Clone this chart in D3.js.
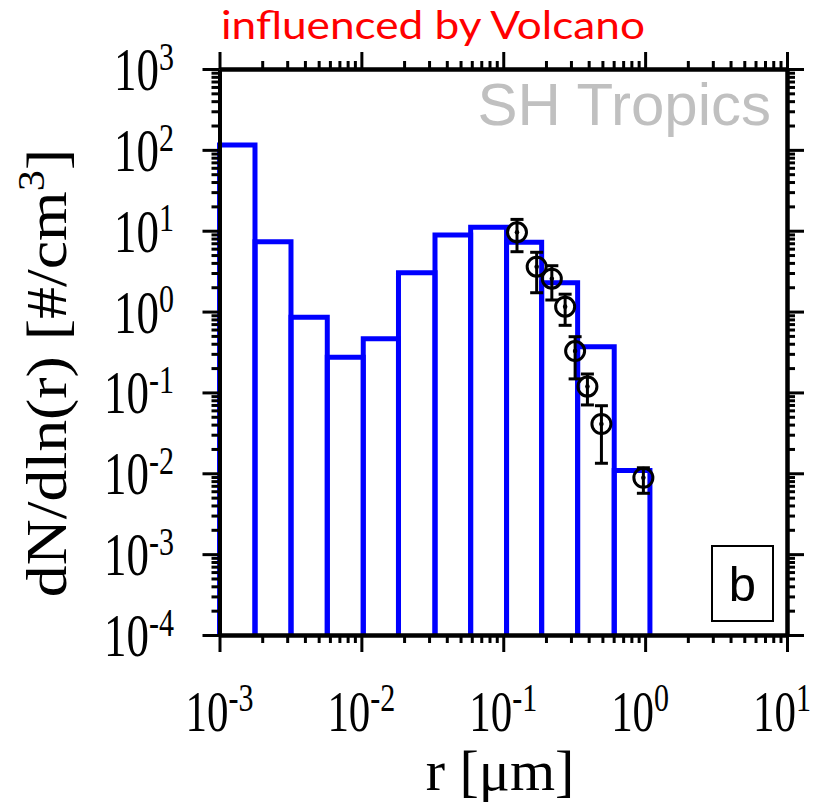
<!DOCTYPE html>
<html>
<head>
<meta charset="utf-8">
<title>SH Tropics size distribution</title>
<script src="https://cdn.jsdelivr.net/npm/d3@7"></script>
<style>
  body { margin: 0; background: #fff; }
  svg { display: block; }
</style>
</head>
<body>
<div id="chart"></div>
<script>
// bin edges of the model histogram (r in um) and dN/dln(r) per bin
const binEdges = [0.001, 0.001779, 0.003191, 0.00575, 0.01031, 0.01826, 0.03303, 0.05892, 0.1055, 0.1865, 0.3344, 0.6056, 1.081];
const binValues = [115, 7.3, 0.85, 0.272, 0.46, 3.03, 8.85, 11.0, 7.2, 2.28, 0.368, 0.0108];

// measured points with error bars
const obsR = [0.125, 0.172, 0.220, 0.273, 0.321, 0.392, 0.492, 0.972];
const obsN = [9.56, 3.59, 2.55, 1.15, 0.325, 0.118, 0.0407, 0.0088];
const obsHi = [13.8, 5.41, 3.69, 1.64, 0.489, 0.169, 0.0685, 0.0117];
const obsLo = [5.50, 1.71, 1.39, 0.676, 0.147, 0.070, 0.0133, 0.00566];

const xTickExp = [-3, -2, -1, 0, 1];
const yTickExp = [-4, -3, -2, -1, 0, 1, 2, 3];

const W = 818, H = 805;
const plot = { left: 219.5, right: 787, top: 69, bottom: 635 };
const stretch = 1.35; // tick labels in the figure are drawn tall

const svg = d3.select("#chart").append("svg")
  .attr("width", W).attr("height", H);

const x = d3.scaleLog().domain([1e-3, 1e1]).range([plot.left, plot.right]);
const y = d3.scaleLog().domain([1e-4, 1e3]).range([plot.bottom, plot.top]);

// titles
svg.append("text")
  .attr("x", 221).attr("y", 39)
  .attr("font-family", "Lato, 'Open Sans', sans-serif")
  .attr("font-size", 39)
  .attr("fill", "#ff0000")
  .attr("textLength", 424)
  .attr("lengthAdjust", "spacingAndGlyphs")
  .text("influenced by Volcano");

svg.append("text")
  .attr("x", 771).attr("y", 125)
  .attr("text-anchor", "end")
  .attr("font-family", "'Liberation Sans', Arial, sans-serif")
  .attr("font-size", 60)
  .attr("fill", "#c0c0c0")
  .text("SH Tropics");

// histogram
const bins = binValues.map((v, i) => ({ x0: binEdges[i], x1: binEdges[i + 1], v }));
svg.append("g").selectAll("path")
  .data(bins)
  .join("path")
  .attr("d", d => `M${x(d.x0)},${y(1e-4)}V${y(d.v)}H${x(d.x1)}V${y(1e-4)}`)
  .attr("fill", "none")
  .attr("stroke", "#0000ff")
  .attr("stroke-width", 5);

// axes (ticks outward on all four sides)
const xMajor = xTickExp.map(e => Math.pow(10, e));
const yMajor = yTickExp.map(e => Math.pow(10, e));
const isMajor = (v, list) => list.some(m => Math.abs(v / m - 1) < 1e-6);
const xMinor = x.ticks().filter(v => !isMajor(v, xMajor));
const yMinor = y.ticks().filter(v => !isMajor(v, yMajor));

function styleAxis(g) {
  g.select(".domain").attr("stroke-width", 4).attr("stroke", "#000");
  g.selectAll(".tick line").attr("stroke-width", 3).attr("stroke", "#000");
  g.selectAll(".tick text").remove();
}

[[d3.axisBottom, plot.bottom], [d3.axisTop, plot.top]].forEach(([ax, ty]) => {
  svg.append("g").attr("transform", `translate(0,${ty})`)
    .call(ax(x).tickValues(xMinor).tickSize(8).tickSizeOuter(0).tickFormat(""))
    .call(styleAxis);
  svg.append("g").attr("transform", `translate(0,${ty})`)
    .call(ax(x).tickValues(xMajor).tickSize(17).tickSizeOuter(0).tickFormat(""))
    .call(styleAxis);
});
[[d3.axisLeft, plot.left], [d3.axisRight, plot.right]].forEach(([ax, tx]) => {
  svg.append("g").attr("transform", `translate(${tx},0)`)
    .call(ax(y).tickValues(yMinor).tickSize(8).tickSizeOuter(0).tickFormat(""))
    .call(styleAxis);
  svg.append("g").attr("transform", `translate(${tx},0)`)
    .call(ax(y).tickValues(yMajor).tickSize(17).tickSizeOuter(0).tickFormat(""))
    .call(styleAxis);
});

// tick labels: 10 with superscript exponent
const serif = "'Liberation Serif', 'Times New Roman', serif";
function powerLabel(sel) {
  sel.append("tspan").text("10");
  sel.append("tspan")
    .attr("font-size", 30)
    .attr("dy", -15)
    .text(d => String(d));
}

svg.append("g").selectAll("text")
  .data(xTickExp)
  .join("text")
  .attr("transform", d => `translate(${x(Math.pow(10, d)) - 34},731) scale(1,${stretch})`)
  .attr("font-family", serif)
  .attr("font-size", 43)
  .attr("fill", "#000")
  .call(powerLabel);

svg.append("g").selectAll("text")
  .data(yTickExp)
  .join("text")
  .attr("transform", d => `translate(174,${y(Math.pow(10, d)) + 21}) scale(1,${stretch})`)
  .attr("text-anchor", "end")
  .attr("font-family", serif)
  .attr("font-size", 45)
  .attr("fill", "#000")
  .call(powerLabel);

// axis titles
const yLab = svg.append("text")
  .attr("transform", "translate(66,373) rotate(-90) scale(1.12,1)")
  .attr("text-anchor", "middle")
  .attr("font-family", serif)
  .attr("font-size", 57)
  .attr("fill", "#000");
yLab.append("tspan").text("dN/dln(r) [#/cm");
yLab.append("tspan").attr("font-size", 38).attr("dy", -22).text("3");
yLab.append("tspan").attr("dy", 22).text("]");

svg.append("text")
  .attr("x", 500).attr("y", 790)
  .attr("text-anchor", "middle")
  .attr("font-family", serif)
  .attr("font-size", 58)
  .attr("fill", "#000")
  .text("r [\u03bcm]");

// observations
const obs = obsR.map((r, i) => ({ r, n: obsN[i], hi: obsHi[i], lo: obsLo[i] }));
const og = svg.append("g").attr("stroke", "#000").attr("stroke-width", 3);
og.selectAll("line.err")
  .data(obs).join("line").attr("class", "err")
  .attr("x1", d => x(d.r)).attr("x2", d => x(d.r))
  .attr("y1", d => y(d.hi)).attr("y2", d => y(d.lo));
og.selectAll("line.capHi")
  .data(obs).join("line").attr("class", "capHi")
  .attr("x1", d => x(d.r) - 6.5).attr("x2", d => x(d.r) + 6.5)
  .attr("y1", d => y(d.hi)).attr("y2", d => y(d.hi));
og.selectAll("line.capLo")
  .data(obs).join("line").attr("class", "capLo")
  .attr("x1", d => x(d.r) - 6.5).attr("x2", d => x(d.r) + 6.5)
  .attr("y1", d => y(d.lo)).attr("y2", d => y(d.lo));
og.selectAll("circle.ring")
  .data(obs).join("circle").attr("class", "ring")
  .attr("cx", d => x(d.r)).attr("cy", d => y(d.n))
  .attr("r", 9.5).attr("fill", "none");
og.selectAll("circle.dot")
  .data(obs).join("circle").attr("class", "dot")
  .attr("cx", d => x(d.r)).attr("cy", d => y(d.n))
  .attr("r", 2.3).attr("fill", "#000").attr("stroke", "none");

// panel letter
svg.append("rect")
  .attr("x", 712).attr("y", 546).attr("width", 61).attr("height", 75)
  .attr("fill", "none").attr("stroke", "#000").attr("stroke-width", 2);
svg.append("text")
  .attr("x", 742.5).attr("y", 601)
  .attr("text-anchor", "middle")
  .attr("font-family", "'Liberation Sans', Arial, sans-serif")
  .attr("font-size", 49)
  .attr("fill", "#000")
  .text("b");
</script>
</body>
</html>
